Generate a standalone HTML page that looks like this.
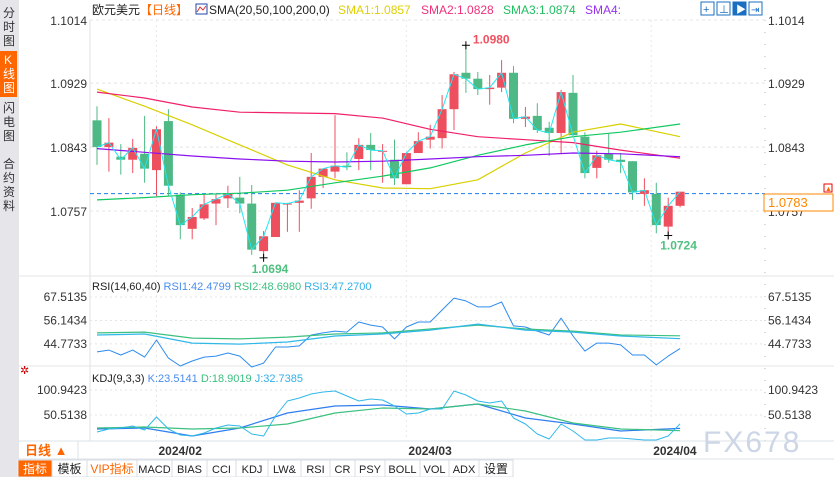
<!DOCTYPE html>
<html><head><meta charset="utf-8">
<style>
body{margin:0;background:#fff;font-family:"Liberation Sans","Noto Sans CJK SC",sans-serif;}
#wrap{position:relative;width:834px;height:477px;overflow:hidden;background:#fff;}
svg{position:absolute;left:0;top:0;}
text{font-family:"Liberation Sans","Noto Sans CJK SC",sans-serif;}
</style></head><body>
<div id="wrap">
<svg id="s" width="834" height="477">
 <rect x="0" y="0" width="17" height="477" fill="#e6e6ea"/>
 <g font-size="12" fill="#333"><text x="3" y="17">分</text><text x="3" y="31">时</text><text x="3" y="45">图</text></g>
 <rect x="0" y="51" width="17" height="46" fill="#f60"/>
 <g font-size="12" fill="#fff"><text x="4" y="64">K</text><text x="3" y="78">线</text><text x="3" y="92">图</text></g>
 <g font-size="12" fill="#333"><text x="3" y="112">闪</text><text x="3" y="126">电</text><text x="3" y="140">图</text></g>
 <g font-size="12" fill="#333"><text x="3" y="168">合</text><text x="3" y="182">约</text><text x="3" y="196">资</text><text x="3" y="210">料</text></g>
 <line x1="18" y1="0" x2="18" y2="477" stroke="#ccc"/>
 <line x1="90" y1="20" x2="90" y2="441" stroke="#e0e0e0"/>
 <line x1="765" y1="20" x2="765" y2="441" stroke="#bbb" stroke-dasharray="1,11"/>
 <line x1="18" y1="276" x2="834" y2="276" stroke="#e4e4e4"/>
 <line x1="18" y1="366" x2="834" y2="366" stroke="#e4e4e4"/>
 <line x1="18" y1="441" x2="834" y2="441" stroke="#dde3ea"/>
 <line x1="18" y1="459" x2="834" y2="459" stroke="#dde3ea"/>
 <line x1="78" y1="441" x2="78" y2="459" stroke="#dde3ea"/>
 <g id="grid"></g>
 <g id="marks"></g>
 <text x="92" y="14" font-size="12" fill="#222">欧元美元<tspan fill="#f60">【日线】</tspan></text>
 <rect x="196" y="4" width="11" height="10" fill="#fff" stroke="#2244aa"/>
 <polyline points="197,12 200,7 203,10 206,6" fill="none" stroke="#d33"/>
 <text x="209" y="14" font-size="12" fill="#222">SMA(20,50,100,200,0)</text>
 <text x="338" y="14" font-size="12" fill="#e0d000">SMA1:1.0857</text>
 <text x="421" y="14" font-size="12" fill="#f0307a">SMA2:1.0828</text>
 <text x="503" y="14" font-size="12" fill="#20c060">SMA3:1.0874</text>
 <text x="585" y="14" font-size="12" fill="#9930ee">SMA4:</text>
 <g>
  <rect x="701" y="2" width="13" height="13" fill="#fff" stroke="#1a6fc0"/><text x="703" y="13" font-size="11" fill="#1a6fc0">+</text>
  <rect x="717" y="2" width="13" height="13" fill="#fff" stroke="#1a6fc0"/><text x="719" y="13" font-size="10" fill="#1a6fc0">⊥</text>
  <rect x="733" y="2" width="13" height="13" fill="#1a6fc0" stroke="#1a6fc0"/><text x="736" y="13" font-size="10" fill="#fff">▶</text>
  <rect x="749" y="2" width="13" height="13" fill="#fff" stroke="#1a6fc0"/><text x="751" y="13" font-size="10" fill="#1a6fc0">⇥</text>
 </g>
 <text x="92" y="290" font-size="11" fill="#222">RSI(14,60,40) <tspan fill="#4a8cf0">RSI1:42.4799</tspan> <tspan fill="#3cc080">RSI2:48.6980</tspan> <tspan fill="#30b0e8">RSI3:47.2700</tspan></text>
 <text x="92" y="382" font-size="11" fill="#222">KDJ(9,3,3) <tspan fill="#4a8cf0">K:23.5141</tspan> <tspan fill="#3cc080">D:18.9019</tspan> <tspan fill="#30b0e8">J:32.7385</tspan></text>
 <text x="20" y="374" font-size="11" fill="#c00">✲</text>
 <rect x="764" y="194" width="69" height="17" fill="#fff" stroke="#f80"/>
 <text x="768" y="207" font-size="13" fill="#f80">1.0783</text>
 <rect x="824" y="184" width="8" height="8" fill="#fff" stroke="#e00"/>
 <text x="825" y="191" font-size="7" fill="#f60">▲</text>
 <text x="703" y="452" font-size="30" fill="#cdd6e6" letter-spacing="2">FX678</text>
 <text x="25" y="455" font-size="13" font-weight="bold" fill="#f60">日线 ▲</text>
 <g id="tabs"></g>
</svg>
</div>
<script>
// ===== data =====
const opens  =[1.0879,1.0843,1.0830,1.0826,1.0834,1.0812,1.0878,1.0779,1.0733,1.0747,1.0767,1.0774,1.0775,1.0767,1.0703,1.0722,1.0767,1.0768,1.0774,1.0803,1.0810,1.0818,1.0827,1.0846,1.0838,1.0826,1.0793,1.0835,1.0853,1.0855,1.0894,1.0943,1.0935,1.0921,1.0923,1.0943,1.0881,1.0885,1.0869,1.0862,1.0916,1.0857,1.0815,1.0834,1.0826,1.0824,1.0780,1.0780,1.0736,1.0764];
const closes =[1.0843,1.0849,1.0826,1.0842,1.0814,1.0867,1.0791,1.0738,1.0749,1.0766,1.0773,1.0780,1.0767,1.0705,1.0723,1.0768,1.0767,1.0771,1.0803,1.0814,1.0818,1.0816,1.0846,1.0839,1.0838,1.0801,1.0835,1.0851,1.0857,1.0894,1.0941,1.0935,1.0921,1.0923,1.0943,1.0881,1.0884,1.0866,1.0862,1.0917,1.0859,1.0808,1.0832,1.0826,1.0823,1.0782,1.0785,1.0738,1.0764,1.0783];
const highs  =[1.0898,1.0882,1.0847,1.0854,1.0885,1.0871,1.0894,1.0782,1.0761,1.0779,1.0779,1.0791,1.0803,1.0792,1.0730,1.0768,1.0768,1.0785,1.0835,1.0814,1.0886,1.0836,1.0855,1.0862,1.0847,1.0853,1.0836,1.0863,1.0873,1.0913,1.0944,1.0980,1.0944,1.0940,1.0960,1.0952,1.0897,1.0902,1.0877,1.0920,1.0940,1.0863,1.0838,1.0861,1.0835,1.0824,1.0801,1.0795,1.0775,1.0780];
const lows   =[1.0819,1.0810,1.0806,1.0808,1.0795,1.0777,1.0777,1.0719,1.0719,1.0745,1.0738,1.0761,1.0754,1.0698,1.0694,1.0722,1.0729,1.0729,1.0760,1.0788,1.0801,1.0812,1.0812,1.0812,1.0795,1.0792,1.0793,1.0835,1.0841,1.0841,1.0866,1.0916,1.0913,1.0900,1.0917,1.0875,1.0870,1.0862,1.0831,1.0835,1.0857,1.0801,1.0801,1.0822,1.0808,1.0772,1.0764,1.0727,1.0724,1.0762];
const smaIdx=[0,4,8,12,16,20,24,28,32,36,40,44,49];
const sma1=[1.0921,1.0898,1.0873,1.0846,1.0819,1.0799,1.0788,1.0787,1.0799,1.0835,1.0863,1.0874,1.0857];
const sma2=[1.0917,1.0909,1.0897,1.0890,1.0889,1.0888,1.0882,1.0867,1.0857,1.0853,1.0849,1.0839,1.0828];
const sma3=[1.0772,1.0775,1.0779,1.0781,1.0785,1.0795,1.0804,1.0815,1.0832,1.0846,1.0857,1.0863,1.0874];
const sma4=[1.0841,1.0836,1.0831,1.0827,1.0824,1.0823,1.0824,1.0827,1.0830,1.0832,1.0835,1.0834,1.0830];
const rsi1=[40.9,41.8,39.4,41.8,38.4,46.7,37.9,34.1,36.5,38.4,38.9,40.4,38.9,33.6,35.5,43.3,43.3,43.8,49.1,50.1,51.0,50.5,55.4,53.9,53.0,47.2,53.0,55.4,55.4,61.2,67.0,65.6,62.7,62.7,65.1,53.5,53.0,51.0,49.1,57.3,48.6,41.3,45.2,45.2,44.3,39.4,39.4,34.6,38.9,42.5];
const rsi2=[50.1,50.5,47.6,47.2,48.1,49.6,50.1,52.0,53.9,52.0,51.0,49.1,48.7];
const rsi3=[49.1,49.6,45.2,44.7,45.7,48.6,49.6,51.5,54.4,51.5,50.5,48.6,47.3];
const kdjK=[22.3,24.3,8.2,24.3,54.5,68.7,70.7,62.6,72.7,44.5,32.4,18.2,23.5];
const kdjD=[24.3,26.3,22.3,24.3,32.4,54.5,64.6,62.6,72.7,58.6,34.4,22.3,18.9];
const kdjJ=[16.2,22.3,24.3,28.3,20.3,46.5,22.3,10.2,8.2,14.2,24.3,30.4,28.3,12.2,8.2,48.5,78.7,84.8,92.9,96.9,98.9,88.8,78.7,82.8,80.8,68.7,52.5,54.5,62.6,62.6,98.9,90.9,78.7,74.7,78.7,44.5,32.4,12.2,2.1,32.4,18.2,0.1,0.1,4.1,4.1,2.1,0.1,0.1,8.2,32.7];
const priceTicks=[1.1014,1.0929,1.0843,1.0757];
const rsiTicks=[67.5135,56.1434,44.7733];
const kdjTicks=[100.9423,50.5138];
const dateLabels=["2024/02","2024/03","2024/04"];
const dateIdx=[5,26,48];
const tabNames=["指标","模板","VIP指标","MACD","BIAS","CCI","KDJ","LW&","RSI","CR","PSY","BOLL","VOL","ADX","设置"];
// ===== axes =====
const xOf=i=>97+11.9*i;
const yP=p=>20+(1.1014-p)*7432;
const yR=v=>297+(67.5135-v)*2.064;
const yK=v=>390+(100.9423-v)*0.4957;
const NS="http://www.w3.org/2000/svg";
function mk(tag,attrs,parent){const e=document.createElementNS(NS,tag);for(const k in attrs)e.setAttribute(k,attrs[k]);(parent||document.getElementById('marks')).appendChild(e);return e;}
const grid=document.getElementById('grid');
priceTicks.forEach((t,k)=>{
 const y=yP(t);
 const l=mk('line',{x1:90,x2:765,y1:y,y2:y,stroke:'#e4e4e4','stroke-dasharray':'3,3'},grid);
 
 
 const a=mk('text',{x:87,y:y+5,'font-size':12,fill:'#333','text-anchor':'end'},grid);a.textContent=t.toFixed(4);
 
 
 const b=mk('text',{x:768,y:y+5,'font-size':12,fill:'#333'},grid);b.textContent=t.toFixed(4);
 
 
});
rsiTicks.forEach(t=>{
 const y=yR(t);
 mk('line',{x1:90,x2:765,y1:y,y2:y,stroke:'#e4e4e4','stroke-dasharray':'2,3'},grid);
 const a=mk('text',{x:87,y:y+4,'font-size':12,fill:'#333','text-anchor':'end'},grid);a.textContent=t.toFixed(4);
 
 
 const b=mk('text',{x:768,y:y+4,'font-size':12,fill:'#333'},grid);b.textContent=t.toFixed(4);
 
 
});
kdjTicks.forEach(t=>{
 const y=yK(t);
 mk('line',{x1:90,x2:765,y1:y,y2:y,stroke:'#e4e4e4','stroke-dasharray':'2,3'},grid);
 const a=mk('text',{x:87,y:y+4,'font-size':12,fill:'#333','text-anchor':'end'},grid);a.textContent=t.toFixed(4);
 
 
 const b=mk('text',{x:768,y:y+4,'font-size':12,fill:'#333'},grid);b.textContent=t.toFixed(4);
 
 
});
dateLabels.forEach((d,k)=>{
 const x=xOf(dateIdx[k])+(k==2?-17:0);
 mk('line',{x1:x,x2:x,y1:20,y2:441,stroke:'#e8e8e8','stroke-dasharray':'2,3'},grid);
 const t=mk('text',{x:x+2,y:455,'font-size':12,'font-weight':'bold',fill:'#333'},grid);t.textContent=d;
 
 
});
const lp=mk('line',{x1:90,x2:765,y1:yP(closes[closes.length-1])+2,y2:yP(closes[closes.length-1])+2,stroke:'#1a7fe8','stroke-dasharray':'4,3'});


for(let i=0;i<opens.length;i++){
 const up=closes[i]>=opens[i];const c=up?'#ee4f5f':'#4fb985';
 const x=xOf(i);
 const w=mk('line',{x1:x,x2:x,y1:yP(highs[i]),y2:yP(lows[i]),stroke:c,'stroke-width':1});
 
 
 const t=Math.min(yP(opens[i]),yP(closes[i]));const h=Math.max(1,Math.abs(yP(opens[i])-yP(closes[i])));
 const r=mk('rect',{x:x-4.5,y:t,width:9,height:h,fill:c});
 
 
}
function line(idx,vals,yf,color,name,w){
 const pts=vals.map((v,k)=>xOf(idx?idx[k]:k).toFixed(1)+','+yf(v).toFixed(1)).join(' ');
 const p=mk('polyline',{points:pts,fill:'none',stroke:color,'stroke-width':w||1.2,'stroke-linejoin':'round'});
 
 
}
line(smaIdx,sma1,yP,'#d8d000','sma1-line');
line(smaIdx,sma2,yP,'#f0206a','sma2-line');
line(smaIdx,sma3,yP,'#10c860','sma3-line');
line(smaIdx,sma4,yP,'#8a10f0','sma4-line');
line(null,closes,yP,'#20e8f0','close-line',1);
line(null,rsi1,yR,'#2e8cf0','rsi1-line',1);
line(smaIdx,rsi2,yR,'#3cc080','rsi2-line');
line(smaIdx,rsi3,yR,'#30b8e8','rsi3-line');
line(smaIdx,kdjK,yK,'#2e7ef0','kdj-k-line');
line(smaIdx,kdjD,yK,'#3cc080','kdj-d-line');
line(null,kdjJ,yK,'#30b8e8','kdj-j-line',1);
let hi=0,lo=0;highs.forEach((v,i)=>{if(v>highs[hi])hi=i;});lows.forEach((v,i)=>{if(v<lows[lo])lo=i;});
function marker(i,v,col,dx,dy,name){
 const x=xOf(i),y=yP(v);
 mk('line',{x1:x-4,x2:x+4,y1:y,y2:y,stroke:'#000'});
 mk('line',{x1:x,x2:x,y1:y-4,y2:y+4,stroke:'#000'});
 const t=mk('text',{x:x+dx,y:y+dy,'font-size':12,'font-weight':'bold',fill:col});t.textContent=v.toFixed(4);
 
 
}
marker(hi,highs[hi],'#f05060',7,-2,'high-label');
marker(lo,lows[lo],'#50c080',-12,15,'low-label');
marker(48,lows[48],'#50c080',-8,14,'recent-low-label');
const tabX=[18,52,87,137,172,207,236,268,301,330,355,385,420,449,479,513];
const tabs=document.getElementById('tabs');
tabNames.forEach((n,k)=>{
 const x0=tabX[k],x1=tabX[k+1];
 const r=mk('rect',{x:x0,y:460,width:x1-x0,height:17,fill:k==0?'#f60':'#fff',stroke:'#d8dde4'},tabs);
 
 
 const t=mk('text',{x:(x0+x1)/2,y:473,'font-size':k<3||k==14?12:11,'text-anchor':'middle',fill:k==0?'#fff':(k==2?'#f60':'#222'),'font-family':'"Liberation Mono","Noto Sans CJK SC",monospace'},tabs);
 t.textContent=n;
 
 
});
</script>
</body></html>
